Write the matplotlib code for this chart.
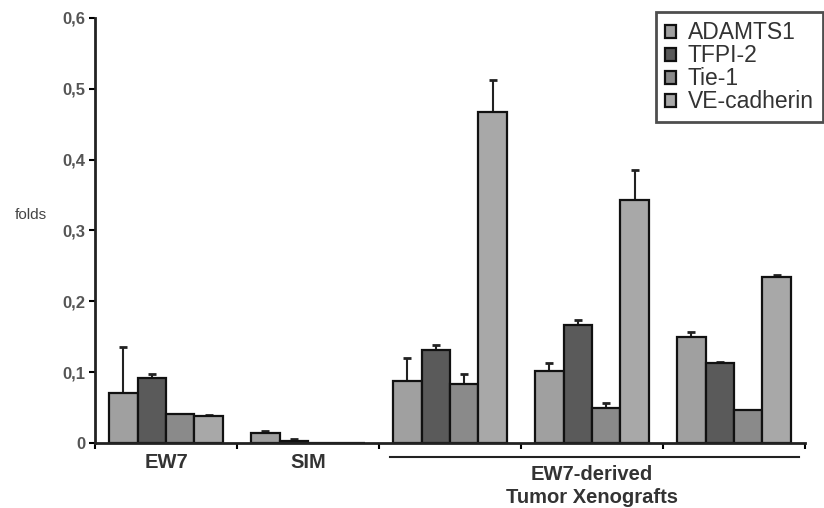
import matplotlib.pyplot as plt
import numpy as np

plt.rcParams['font.family'] = ['Liberation Sans', 'DejaVu Sans']

# Data
groups = ['EW7', 'SIM', 'X1', 'X2', 'X3']
genes = ['ADAMTS1', 'TFPI-2', 'Tie-1', 'VE-cadherin']
adamts1 = [0.071, 0.0145, 0.088, 0.102, 0.150]
adamts1_err = [0.065, 0.003, 0.032, 0.011, 0.006]
tfpi2 = [0.092, 0.003, 0.131, 0.167, 0.113]
tfpi2_err = [0.005, 0.002, 0.008, 0.006, 0.002]
tie1 = [0.041, 0.0, 0.083, 0.049, 0.046]
tie1_err = [0.0, 0.0, 0.014, 0.008, 0.0]
vecad = [0.038, 0.0, 0.467, 0.343, 0.235]
vecad_err = [0.002, 0.0, 0.046, 0.043, 0.002]
group_labels = ['EW7', 'SIM']
xeno_label = 'EW7-derived\nTumor Xenografts'
yticks = [0, 0.1, 0.2, 0.3, 0.4, 0.5, 0.6]
ytick_labels = ['0', '0,1', '0,2', '0,3', '0,4', '0,5', '0,6']

colors = ['#a0a0a0', '#5a5a5a', '#8a8a8a', '#a8a8a8']
series = [(adamts1, adamts1_err), (tfpi2, tfpi2_err), (tie1, tie1_err), (vecad, vecad_err)]

fig = plt.figure(figsize=(8.24, 5.08), dpi=100)
ax = fig.add_axes([0.1153, 0.128, 0.977 - 0.1153, 0.9646 - 0.128])

x = np.arange(len(groups))
w = 0.2
for i, (vals, errs) in enumerate(series):
    pos = x + (i - 1.5) * w
    ax.bar(pos, vals, w, color=colors[i], edgecolor='#111111', linewidth=1.6,
           label=genes[i], zorder=2)
    e = np.array(errs)
    mask = e > 0
    ax.errorbar(pos[mask], np.array(vals)[mask], yerr=[np.zeros(mask.sum()), e[mask]],
                fmt='none', ecolor='#222222', elinewidth=1.5, capsize=3, capthick=2, zorder=1)

ax.set_xlim(-0.5, 4.5)
ax.set_ylim(0, 0.6)
ax.set_yticks(yticks)
ax.set_yticklabels(ytick_labels, fontsize=12, color='#555555', fontweight='bold')
ax.set_xticks([-0.5, 0.5, 1.5, 2.5, 3.5, 4.5])
ax.set_xticklabels([])
ax.tick_params(axis='x', direction='out', length=4, width=1.5)
ax.tick_params(axis='y', direction='out', length=4, width=1.5, pad=3)
for s in ['top', 'right']:
    ax.spines[s].set_visible(False)
for s in ['left', 'bottom']:
    ax.spines[s].set_linewidth(2)
    ax.spines[s].set_color('#222222')

for i, lab in enumerate(group_labels):
    ax.text(x[i], -0.028, lab, ha='center', va='center', fontsize=14.5,
            fontweight='bold', color='#333333', clip_on=False)
ax.plot([1.58, 4.46], [-0.02, -0.02], color='#222222', lw=1.5, clip_on=False)
ax.text(3.0, -0.061, xeno_label, ha='center', va='center', fontsize=14.5,
        fontweight='bold', color='#333333', linespacing=1.3, clip_on=False)

fig.text(15 / 824, 1 - 215 / 508, 'folds', fontsize=11, color='#444444', va='center')

leg = ax.legend(loc='upper right', bbox_to_anchor=(1.0254, 1.014), fontsize=16.5,
                frameon=True, fancybox=False, edgecolor='#222222',
                handlelength=0.5, handleheight=0.5, handletextpad=0.5,
                labelspacing=0.0, borderpad=0.4, borderaxespad=0)
leg.get_frame().set_linewidth(2)
for t in leg.get_texts():
    t.set_color('#333333')

fig.savefig('out.png', dpi=100)
